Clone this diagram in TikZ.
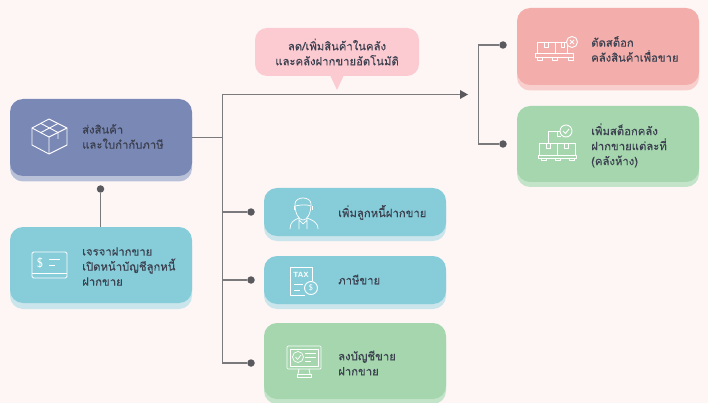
\documentclass[tikz,border=0pt]{standalone}
\usepackage{fontspec}
\newfontfamily\thaifont[Script=Thai,FakeBold=0.25]{Loma}
\definecolor{bgc}{HTML}{FDF6F5}
\definecolor{inkc}{HTML}{3C4150}
\definecolor{linec}{HTML}{7A7A7C}
\definecolor{dotc}{HTML}{5A5A5E}
\definecolor{indigoc}{HTML}{7A88B6}
\definecolor{indigos}{HTML}{B9C1D9}
\definecolor{bluec}{HTML}{87CDD9}
\definecolor{blues}{HTML}{CAE5EB}
\definecolor{greenc}{HTML}{A5D6AE}
\definecolor{greens}{HTML}{C4E4CA}
\definecolor{redc}{HTML}{F3AEAB}
\definecolor{reds}{HTML}{F8CFCD}
\definecolor{bubblec}{HTML}{FCCBD2}
\tikzset{
  card/.style={rounded corners=13pt,minimum width=182pt,inner sep=0pt,draw=none},
  lbl/.style={anchor=west,align=left,inner sep=0pt,text=inkc,font=\thaifont\fontsize{11.3}{15}\selectfont},
  wire/.style={draw=linec,line width=1.3pt},
  blob/.style={circle,fill=dotc,minimum size=7.5pt,inner sep=0pt},
  ico/.style={draw=white,line width=0.9pt,line join=round},
}
\begin{document}
\begin{tikzpicture}[x=1pt,y=-1pt]
\path[use as bounding box,fill=bgc] (0,0) rectangle (708,403);
% shadows
\node[card,fill=indigos,minimum height=77pt] at (101,143) {};
\node[card,fill=blues,minimum height=76pt] at (101,271) {};
\node[card,fill=blues,minimum height=48pt] at (355,217) {};
\node[card,fill=blues,minimum height=48pt] at (355,285) {};
\node[card,fill=greens,minimum height=76pt] at (355,366) {};
\node[card,fill=reds,minimum height=77pt] at (608,52) {};
\node[card,fill=greens,minimum height=76pt] at (608,149) {};
% cards
\node[card,fill=indigoc,minimum height=77pt] (ship) at (101,137.5) {};
\node[card,fill=bluec,minimum height=76pt] (nego) at (101,265) {};
\node[card,fill=bluec,minimum height=48pt] (debtor) at (355,212) {};
\node[card,fill=bluec,minimum height=48pt] (tax) at (355,280) {};
\node[card,fill=greenc,minimum height=76pt] (post) at (355,361) {};
\node[card,fill=redc,minimum height=77pt] (cut) at (608,46.5) {};
\node[card,fill=greenc,minimum height=76pt] (add) at (608,144) {};
% bubble
\fill[bubblec,rounded corners=12pt] (255,28) rectangle (419,76);
\fill[bubblec] (330,75) -- (337,90) -- (344,75) -- cycle;
\node[inner sep=0pt,align=center,text=inkc,font=\thaifont\fontsize{11.3}{15}\selectfont] (note) at (337,52) {ลด/เพิ่มสินค้าในคลัง\\และคลังฝากขายอัตโนมัติ};
% connector nodes
\coordinate (jmid) at (222.5,137.5);
\coordinate (jtop) at (222.5,94.5);
\node[blob] (dn) at (100.5,189) {};
\node[blob] (d1) at (251,212) {};
\node[blob] (d2) at (251,280) {};
\node[blob] (d3) at (251,363) {};
\node[blob] (d4) at (503,45) {};
\node[blob] (d5) at (503,144) {};
\coordinate (arrowend) at (468,94.5);
\coordinate (rtop) at (478.5,45);
\coordinate (rbot) at (478.5,144);
\coordinate (j1) at (222.5,212);
\coordinate (j2) at (222.5,280);
\coordinate (j3) at (222.5,363);
\draw[wire] (ship.east) -- (jmid);
\draw[wire] (jtop) -- (j3) -- (d3);
\draw[wire] (j1) -- (d1);
\draw[wire] (j2) -- (d2);
\draw[wire] (dn) -- (nego.north -| dn);
\draw[wire] (d4) -- (rtop) -- (rbot) -- (d5);
\draw[wire] (jtop) -- (461,94.5);
\fill[dotc] (arrowend) -- (460,90) -- (460,99) -- cycle;
% labels
\node[lbl] (tship) at (82,136.5) {ส่งสินค้า\\และใบกำกับภาษี};
\node[lbl] (tnego) at (82,266.5) {เจรจาฝากขาย\\เปิดหน้าบัญชีลูกหนี้\\ฝากขาย};
\node[lbl] (tdebtor) at (338,212.5) {เพิ่มลูกหนี้ฝากขาย};
\node[lbl] (ttax) at (338,279.5) {ภาษีขาย};
\node[lbl] (tpost) at (338,363) {ลงบัญชีขาย\\ฝากขาย};
\node[lbl] (tcut) at (591,49) {ตัดสต็อก\\คลังสินค้าเพื่อขาย};
\node[lbl] (tadd) at (591,145.5) {เพิ่มสต็อกคลัง\\ฝากขายแต่ละที่\\(คลังห้าง)};
% box icon
\draw[ico] (32,128) -- (49,119) -- (67,128) -- (67,145) -- (49,154) -- (32,145) -- cycle;
\draw[ico] (32,128) -- (49,137) -- (67,128) (49,137) -- (49,154);
\draw[ico] (41,123.5) -- (58,132.5) -- (58,139) (58,123.5) -- (41,132.5);
% card icon
\draw[ico,rounded corners=1.5pt] (32,252) rectangle (67,278);
\draw[ico] (32,273) -- (67,273) (49,259) -- (60,259) (49,265) -- (55,265);
\node[inner sep=0pt,text=white,font=\sffamily\fontsize{13}{13}\selectfont] (idollar) at (40,263) {\$};
% person icon
\draw[ico,line width=0.7pt] (295,204) .. controls (295,196) and (311,196) .. (311,204) .. controls (311,214) and (307,220) .. (303,220) .. controls (299,220) and (295,214) .. (295,204) -- cycle;
\draw[ico,line width=0.7pt] (295,206) .. controls (300,205) and (306,204) .. (311,206);
\draw[ico,line width=0.7pt] (294,206) -- (294,210) (312,206) -- (312,210);
\draw[ico,line width=0.7pt] (290,229) .. controls (290,222) and (294,220) .. (299,218) (318,229) .. controls (318,222) and (312,220) .. (307,218);
\draw[ico,line width=0.7pt] (299,218) -- (299,229) (307,218) -- (307,229) (299,220) -- (303,224) -- (307,220);
% tax icon
\draw[ico] (305,295) -- (290,295) -- (290,267) -- (312,267) -- (312,281);
\node[inner sep=0pt,text=white,font=\sffamily\bfseries\fontsize{7.5}{8}\selectfont] (itax) at (301,275) {TAX};
\draw[ico] (294,284) -- (303,284) (294,290) -- (300,290);
\draw[ico] (311,288) circle (6.5);
\node[inner sep=0pt,text=white,font=\sffamily\fontsize{8}{8}\selectfont] (itaxd) at (311,288) {\$};
% monitor icon
\draw[ico,line width=0.7pt,rounded corners=1pt] (287,346) rectangle (321,369);
\draw[ico,line width=0.7pt] (290,349) rectangle (318,366);
\draw[ico,line width=0.7pt] (298,357) circle (5.5);
\draw[ico,line width=0.7pt] (295.5,357) -- (297.5,359.5) -- (301,355);
\draw[ico,line width=0.7pt] (305,353) -- (316,353) (305,357) -- (316,357) (305,361) -- (311,361);
\draw[ico,line width=0.7pt] (299,369) -- (298,374) (309,369) -- (310,374);
\draw[ico,line width=0.7pt] (297,374) rectangle (311,377);
% red pallet icon
\draw[ico] (537,42) rectangle (555,53) (555,42) rectangle (567,53);
\draw[ico,line width=0.7pt] (544,42) -- (544,47) -- (548,47) -- (548,42) (561,42) -- (561,47) -- (564,47) -- (564,42);
\draw[ico] (535,53) rectangle (573,57);
\draw[ico] (537,57) rectangle (542,60) (552,57) rectangle (557,60) (568,57) rectangle (573,60);
\draw[ico,fill=redc] (572,42) circle (5.5);
\draw[ico] (570,40) -- (574,44) (574,40) -- (570,44);
% green pallet icon
\draw[ico] (539,143) rectangle (557,155) (557,143) rectangle (575,155);
\draw[ico,line width=0.7pt] (546,143) -- (546,148) -- (550,148) -- (550,143) (564,143) -- (564,148) -- (568,148) -- (568,143);
\draw[ico] (538,155) rectangle (576,158);
\draw[ico] (541,158) rectangle (546,160.5) (555,158) rectangle (560,160.5) (569,158) rectangle (574,160.5);
\draw[ico,line width=0.7pt] (548,143) -- (548,131) -- (560,131);
\draw[ico,line width=0.7pt] (557,131) -- (557,136) -- (561,136);
\draw[ico,fill=greenc] (566,131) circle (6);
\draw[ico] (563,131) -- (565.5,133.5) -- (569,129);
\end{tikzpicture}
\end{document}
